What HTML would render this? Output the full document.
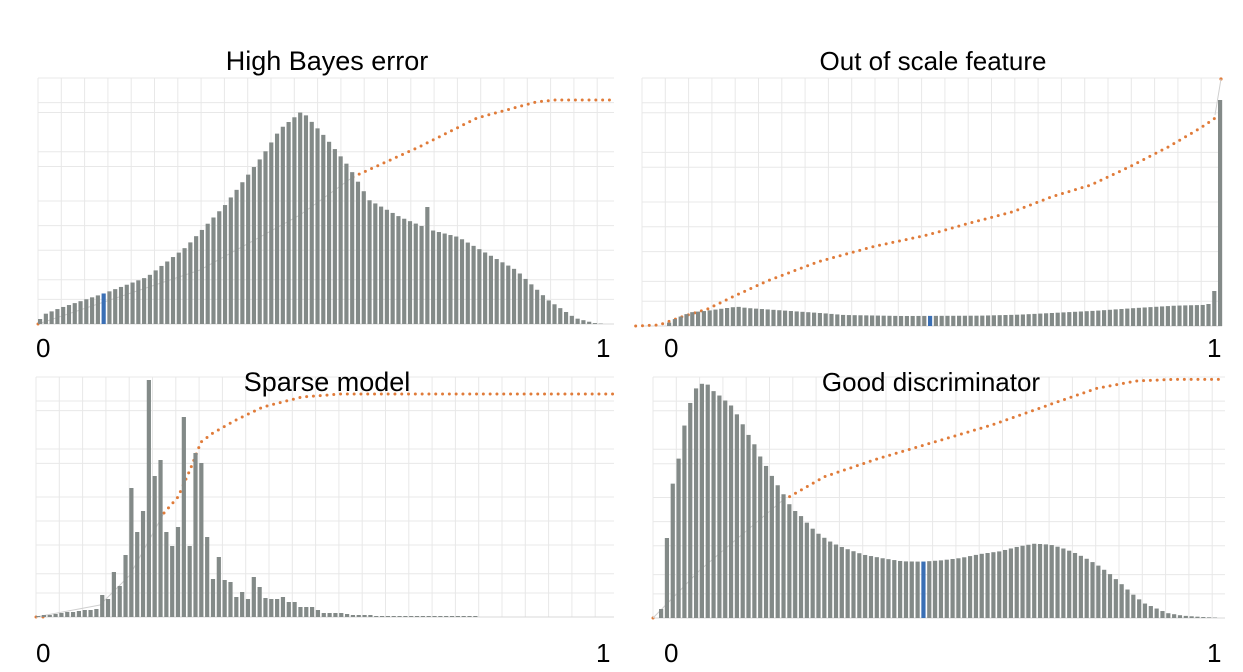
<!DOCTYPE html>
<html><head><meta charset="utf-8"><style>
html,body{margin:0;padding:0;background:#fff;}
svg{display:block;font-family:"Liberation Sans",sans-serif;}
</style></head><body>
<svg id="s" width="1243" height="672" xmlns="http://www.w3.org/2000/svg">
<g id="g"></g>
<text x="327" y="70" font-size="27" text-anchor="middle">High Bayes error</text>
<text x="933" y="70" font-size="26" text-anchor="middle">Out of scale feature</text>
<text x="327" y="391" font-size="27" text-anchor="middle">Sparse model</text>
<text x="931" y="391" font-size="26" text-anchor="middle">Good discriminator</text>
<text x="36" y="357" font-size="26">0</text>
<text x="596" y="357" font-size="26">1</text>
<text x="664" y="357" font-size="26">0</text>
<text x="1207" y="357" font-size="26">1</text>
<text x="36" y="662" font-size="26">0</text>
<text x="596" y="662" font-size="26">1</text>
<text x="664" y="662" font-size="26">0</text>
<text x="1207" y="662" font-size="26">1</text>
</svg>
<script>
var NS="http://www.w3.org/2000/svg",G=document.getElementById("g");
function el(t,a){var e=document.createElementNS(NS,t);for(var k in a)e.setAttribute(k,a[k]);G.appendChild(e);return e;}
function interp(p,x){if(x<=p[0][0])return p[0][1];for(var i=1;i<p.length;i++){if(x<=p[i][0]){var a=p[i-1],b=p[i];return a[1]+(b[1]-a[1])*(x-a[0])/(b[0]-a[0]);}}return p[p.length-1][1];}
function grid(x0,x1,y0,y1){for(var x=x0;x<=x1+0.5;x+=23.3)el("line",{x1:x,x2:x,y1:y0,y2:y1,stroke:"#e8e8e8","stroke-width":1});
 var hs=[0,0.1,0.14,0.3,0.36,0.5,0.6,0.7,0.82,0.9,1];for(var i=0;i<hs.length;i++){var y=y0+(y1-y0)*hs[i];el("line",{x1:x0,x2:x1,y1:y,y2:y,stroke:"#e8e8e8","stroke-width":1});}
 el("line",{x1:x0,x2:x1,y1:y1,y2:y1,stroke:"#d8d8d8","stroke-width":1});}
function dots(pts){var L=[];for(var i=1;i<pts.length;i++){var dx=pts[i][0]-pts[i-1][0],dy=pts[i][1]-pts[i-1][1];L.push(Math.sqrt(dx*dx+dy*dy));}
 var step=6.8,t=0;for(var i=0;i<L.length;i++){while(t<=L[i]){var f=t/L[i];el("circle",{cx:pts[i][0]+(pts[i+1][0]-pts[i][0])*f,cy:pts[i][1]+(pts[i+1][1]-pts[i][1])*f,r:1.5,fill:"#e07b39"});t+=step;}t-=L[i];}}
function faint(pts){el("polyline",{points:pts.map(function(p){return p.join(",");}).join(" "),fill:"none",stroke:"#d0d0d0","stroke-width":1});}
function zx(a){return a/2.57;}
function bars(x0,n,sp,base,hf,blue){for(var i=0;i<n;i++){var x=x0+i*sp;var h=hf(x,i);if(h<0.3)continue;el("rect",{x:x,y:base-h,width:sp*0.72,height:h,fill:(blue!=null&&Math.abs(x-blue)<sp/2)?"#3a6fb5":"#838a88"});}}
// Panel 1
grid(38,614,78,324);
faint([[38,324],[200,270],[300,215],[353,177]]);
el("circle",{cx:38,cy:324,r:1.5,fill:"#e07b39"});
dots([[353,177],[419,147],[477,118],[536,102],[555,100],[614,100]]);
var p1=[[38,3],[45,10],[60,16],[105,31],[147,47],[186,77],[225,119],[263,169],[280,195],[302,213],[326,186],[349,157],[369,124],[400,107],[431,94],[458,87],[493,67],[516,54],[548,24],[575,6],[594,1],[605,0]];
bars(38,100,5.78,324,function(x){var h=interp(p1,x+2);if(Math.abs(x+2-425)<3)h=117;return h;},103);
// Panel 2
grid(642,1222,78,326);
var p2=[[95,762],[110,750],[125,742],[140,735],[155,727],[200,722],[230,717],[275,710],[300,714],[400,722],[500,730],[550,735],[700,738],[900,737],[1000,734],[1100,728],[1200,722],[1300,714],[1400,707],[1500,704]].map(function(p){return [zx(p[0])+630,(768-p[1])/3];});
var o2=[[30,768],[90,765],[150,740],[215,717],[280,680],[370,632],[500,575],[640,530],[780,495],[880,462],[1000,425],[1100,380],[1200,345],[1300,290],[1400,230],[1480,175],[1535,132]].map(function(p){return [zx(p[0])+630-6,p[1]/3+70];});
dots(o2);el("circle",{cx:1221,cy:79,r:1.6,fill:"#e07b39"});
faint([[1215,115],[1221,79]]);
bars(667,96,5.8,326,function(x,i){if(i==95)return 226;if(i==94)return 35;if(i==93)return 22;return interp(p2,x+2);},926);
// Panel 3
grid(36,614,377,617);
el("circle",{cx:36,cy:617,r:1.5,fill:"#e07b39"});el("circle",{cx:43,cy:617,r:1.5,fill:"#e07b39"});
faint([[36,617],[100,605],[130,575],[164,513]]);
dots([[164,513],[178,497],[190,470],[201,442],[213,433],[236,420],[263,407],[302,397],[341,394],[614,394]]);
var h3=[4,5,5,6,7,7,8,22,18,45,31,62,129,85,106,237,141,157,85,71,90,200,71,164,154,80,38,60,37,35,20,25,18,40,30,19,18,18,20,15,15,10,10,10,7,4,4,4,4,3,2,2,2,2];
bars(36,100,5.83,617,function(x,i){if(i<4)return [1,2,2,3][i];var k=i-4;if(k<h3.length)return h3[k];if(i<76)return 1;return 0;},null);
// Panel 4
grid(653,1225,377,618);
var p4=[[80,718],[95,500],[110,338],[125,265],[140,165],[155,98],[170,55],[185,42],[200,45],[215,65],[230,78],[245,93],[260,108],[275,135],[290,165],[305,197],[320,225],[335,262],[350,290],[365,320],[380,348],[395,375],[410,405],[425,425],[440,440],[455,460],[470,478],[485,493],[500,505],[520,520],[550,535],[600,555],[650,566],[700,575],[750,576],[800,572],[850,565],[900,553],[950,545],[1000,530],[1040,522],[1080,525],[1110,535],[1140,548],[1170,565],[1200,585],[1230,610],[1260,640],[1290,672],[1320,700],[1350,715],[1380,730],[1420,738],[1470,742],[1530,745]].map(function(p){return [zx(p[0])+630,(745-p[1])/3];});
el("circle",{cx:653,cy:618,r:1.5,fill:"#e07b39"});
faint([[653,618],[700,570],[783,500]]);
dots([[395,390],[500,320],[640,265],[800,210],[930,165],[1040,120],[1100,95],[1200,55],[1300,33],[1400,28],[1520,28]].map(function(p){return [zx(p[0])+630,p[1]/3+370];}));
bars(659,97,5.83,618,function(x){return interp(p4,x+2);},921);
</script>
</body></html>
